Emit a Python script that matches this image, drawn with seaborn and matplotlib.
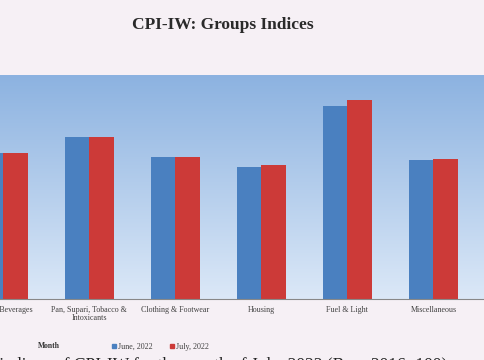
import numpy as np
import pandas as pd
import seaborn as sns
import matplotlib.pyplot as plt
from matplotlib.patches import Patch

# data
groups = ["Food & Beverages", "Pan, Supari, Tobacco &\nIntoxicants", "Clothing & Footwear",
          "Housing", "Fuel & Light", "Miscellaneous"]
june_2022 = [130.0, 144.5, 126.8, 117.9, 172.3, 124.1]
july_2022 = [130.2, 144.6, 126.8, 119.6, 177.7, 125.0]
months = ["June, 2022", "July, 2022"]

df = pd.DataFrame({
    "Group": groups * 2,
    "Month": [months[0]] * len(groups) + [months[1]] * len(groups),
    "Index": june_2022 + july_2022,
})

sns.set_style("white")
plt.rcParams['font.family'] = ['Liberation Serif', 'DejaVu Serif']

bg = "#f6f0f5"
fig = plt.figure(figsize=(4.85, 3.6), dpi=100, facecolor=bg)
# axes runs past the left edge like the scanned crop
ax = fig.add_axes([-40 / 485, 1 - 299 / 360, 525 / 485, 224 / 360])

# gradient plot area
grad = np.linspace(0, 1, 256).reshape(-1, 1)
top = np.array([0.55, 0.70, 0.88])
bot = np.array([0.86, 0.91, 0.97])
img = top + (bot - top) * grad[:, :, None] * np.ones((1, 1, 3))
ax.imshow(img, extent=[0, 1, 0, 1], transform=ax.transAxes, aspect='auto', zorder=0)

sns.barplot(data=df, x="Group", y="Index", hue="Month", palette=["#4a80c0", "#cc3a38"],
            width=0.57, saturation=1, ax=ax, zorder=2, legend=False)
for p in ax.patches:
    p.set_edgecolor("none")

ax.set_xlim(-0.5, 5.6)
ax.set_ylim(0, 200)
ax.set_xlabel("")
ax.set_ylabel("")
ax.set_yticks([])
ax.set_xticks(range(len(groups)))
ax.set_xticklabels(groups, fontsize=5.8, color="#404040", linespacing=1.0)
ax.tick_params(axis="x", which="major", length=0, pad=5)
ax.set_xticks(np.arange(-0.5, 6, 1), minor=True)
ax.tick_params(axis="x", which="minor", length=3, color="#777777", direction="out")
for s in ["top", "left", "right"]:
    ax.spines[s].set_visible(False)
ax.spines["bottom"].set_color("#888888")
ax.spines["bottom"].set_linewidth(0.8)

fig.text(0.46, 0.93, "CPI-IW: Groups Indices", ha="center", va="center",
         fontsize=12.5, fontweight="bold", color="#2a2a2a")

fig.text(38 / 485, 1 - 346 / 360, "Month", fontsize=5.5, fontweight="bold",
         color="#333333", va="center")
handles = [Patch(color="#4a80c0"), Patch(color="#cc3a38")]
fig.legend(handles, months, loc="center left", bbox_to_anchor=(105 / 485, 1 - 347 / 360),
           ncol=2, frameon=False, fontsize=5.8, handlelength=0.5, handleheight=0.5,
           handletextpad=0.2, columnspacing=2.2, labelcolor="#404040")

# next line of the scanned page, cut off at the bottom
fig.text(-40 / 485, 1 - 357 / 360, "Key findings of CPI-IW for the month of July, 2022 (Base 2016=100)",
         fontsize=12.5, color="#222222", va="top", ha="left")

fig.savefig("out.png", dpi=100, facecolor=bg)
